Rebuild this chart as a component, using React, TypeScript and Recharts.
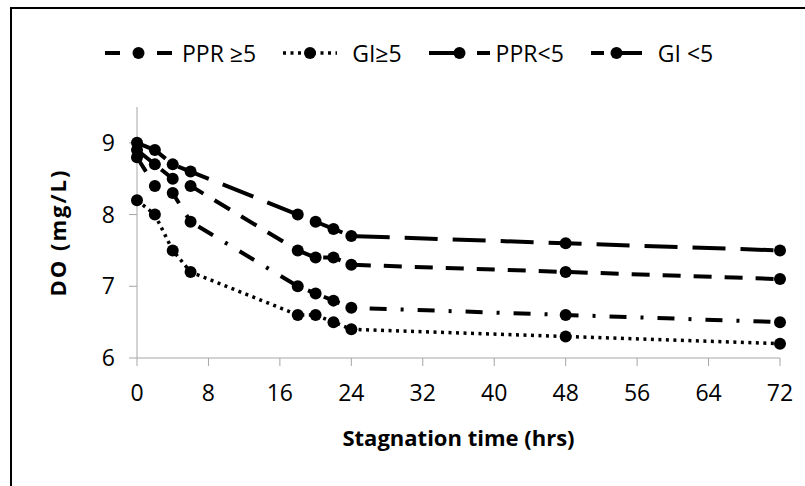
import { LineChart, Line, XAxis, YAxis } from 'recharts';

// stagnation time (hrs) and DO (mg/L) per group
const HOURS = [0, 2, 4, 6, 18, 20, 22, 24, 48, 72];
const PPR_GE5 = [8.9, 8.7, 8.5, 8.4, 7.5, 7.4, 7.4, 7.3, 7.2, 7.1];
const GI_GE5 = [8.2, 8.0, 7.5, 7.2, 6.6, 6.6, 6.5, 6.4, 6.3, 6.2];
const PPR_LT5 = [9.0, 8.9, 8.7, 8.6, 8.0, 7.9, 7.8, 7.7, 7.6, 7.5];
const GI_LT5 = [8.8, 8.4, 8.3, 7.9, 7.0, 6.9, 6.8, 6.7, 6.6, 6.5];

const X_TICKS = [0, 8, 16, 24, 32, 40, 48, 56, 64, 72];
const Y_TICKS = [6, 7, 8, 9];

const SERIES = [
  { key: 'pprGe5', name: 'PPR ≥5', values: PPR_GE5, dash: '18 13', width: 4, legendW: 67, legendDash: '15 37 15', gap: 10 },
  { key: 'giGe5', name: 'GI≥5', values: GI_GE5, dash: '3 4.5', width: 3.5, legendW: 54, legendDash: '3 4.5', gap: 15 },
  { key: 'pprLt5', name: 'PPR<5', values: PPR_LT5, dash: '33 15', width: 4, legendW: 61, legendDash: '33 15 13', gap: 6 },
  { key: 'giLt5', name: 'GI <5', values: GI_LT5, dash: '17 14 3 14', width: 4, legendW: 51, legendDash: '13 12 26', gap: 16 },
];

const data = HOURS.map((h, i) => {
  const row: Record<string, number> = { hours: h };
  SERIES.forEach(s => { row[s.key] = s.values[i]; });
  return row;
});

const FONT = '"Open Sans", "Noto Sans", Arial, sans-serif';
const AXIS_GREY = '#a6a6a6';

function ChartLegend() {
  return (
    <div style={{ position: 'absolute', left: 93, top: 28, display: 'flex', alignItems: 'center', fontFamily: FONT, fontSize: 23, color: '#000', whiteSpace: 'nowrap' }}>
      {SERIES.map(s => (
        <div key={s.key} style={{ display: 'flex', alignItems: 'center', marginRight: 27 }}>
          <svg width={s.legendW} height={20} style={{ marginRight: s.gap }}>
            <line x1={0} x2={s.legendW} y1={10} y2={10} stroke="#000" strokeWidth={s.width} strokeDasharray={s.legendDash} />
            <circle cx={s.legendW / 2} cy={10} r={6} fill="#000" />
          </svg>
          <span>{s.name}</span>
        </div>
      ))}
    </div>
  );
}

export default function App() {
  return (
    <div style={{ position: 'absolute', left: 10, top: 7, width: 793, height: 477, borderTop: '2px solid #000', borderLeft: '2px solid #000', background: '#fff', overflow: 'hidden' }}>
      <ChartLegend />
      <LineChart width={793} height={476} data={data} margin={{ top: 98, right: 25, bottom: 10, left: 0 }}>
        <XAxis
          dataKey="hours"
          type="number"
          domain={[0, 72]}
          ticks={X_TICKS}
          stroke={AXIS_GREY}
          tickSize={8}
          tickMargin={19}
          height={117}
          tick={{ fill: '#000', fontSize: 23, fontFamily: FONT }}
          label={{ value: 'Stagnation time (hrs)', position: 'insideBottom', offset: 29, fill: '#000', fontSize: 22, fontWeight: 700, fontFamily: FONT }}
        />
        <YAxis
          type="number"
          domain={[6, 9.5]}
          ticks={Y_TICKS}
          stroke={AXIS_GREY}
          tickSize={8}
          tickMargin={14}
          width={125}
          tick={{ fill: '#000', fontSize: 23, fontFamily: FONT }}
          label={{ value: 'DO (mg/L)', angle: -90, position: 'insideLeft', offset: 46, fill: '#000', fontSize: 22, fontWeight: 700, fontFamily: FONT, letterSpacing: 2, style: { textAnchor: 'middle' } }}
        />
        {SERIES.map(s => (
          <Line
            key={s.key}
            dataKey={s.key}
            name={s.name}
            type="linear"
            stroke="#000"
            strokeWidth={s.width}
            strokeDasharray={s.dash}
            dot={{ r: 6, fill: '#000', stroke: '#000', strokeWidth: 0, strokeDasharray: '' }}
            activeDot={false}
            isAnimationActive={false}
          />
        ))}
      </LineChart>
    </div>
  );
}
